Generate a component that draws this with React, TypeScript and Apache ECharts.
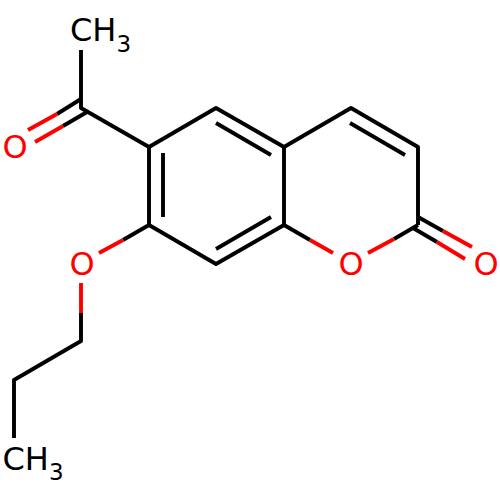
import React, { useEffect, useRef } from "react";
import * as echarts from "echarts";

type P = [number, number];

const blackBonds: P[][] = [
  [[81, 50], [81, 108], [149, 147], [216, 108], [284, 147], [351, 108], [418, 147], [418, 225]],
  [[149, 147], [149, 225], [216, 264], [284, 225], [284, 147]],
  [[163, 153], [163, 217]],
  [[216, 123], [271, 155]],
  [[216, 249], [271, 217]],
  [[350, 123], [405, 155]],
  [[81, 99], [57, 114]],
  [[87, 112], [63, 126]],
  [[149, 225], [123, 240]],
  [[284, 225], [310, 240]],
  [[418, 225], [394, 239]],
  [[418, 217], [443, 231]],
  [[413, 228], [437, 242]],
  [[81, 313], [81, 341], [14, 380], [14, 438]],
];

const redBonds: P[][] = [
  [[57, 114], [28, 130]],
  [[63, 126], [35, 142]],
  [[123, 240], [99, 253]],
  [[310, 240], [333, 253]],
  [[394, 239], [368, 253]],
  [[443, 231], [472, 247]],
  [[437, 242], [465, 259]],
  [[81, 283], [81, 313]],
];

const atomNames = ["CH", "3", "O", "O", "O", "O", "CH", "3"];
const atomX = [70, 116.5, 15, 82, 351, 486, 2.5, 49];
const atomY = [30, 43.5, 147, 264, 264, 264, 458.5, 472];
const atomSizes = [32, 23, 32, 32, 32, 32, 32, 23];
const atomColors = ["#000000", "#000000", "#ff0000", "#ff0000", "#ff0000", "#ff0000", "#000000", "#000000"];
const atomAligns = ["left", "left", "center", "center", "center", "center", "left", "left"];

const bondSeries = (bonds: P[][], color: string) =>
  bonds.map((bond) => ({
    type: "line",
    data: bond,
    symbol: "none",
    silent: true,
    clip: false,
    lineStyle: { color, width: 3.9, cap: "butt", join: "round", opacity: 1 },
  }));

export default function App() {
  const ref = useRef<HTMLDivElement>(null);

  useEffect(() => {
    const chart = echarts.init(ref.current!, undefined, { renderer: "svg" });
    chart.setOption({
      animation: false,
      backgroundColor: "#ffffff",
      grid: { left: 0, right: 0, top: 0, bottom: 0 },
      xAxis: { type: "value", min: 0, max: 500, show: false },
      yAxis: { type: "value", min: 0, max: 500, inverse: true, show: false },
      series: [
        ...bondSeries(blackBonds, "#000000"),
        ...bondSeries(redBonds, "#ff0000"),
        {
          type: "scatter",
          symbolSize: 0,
          silent: true,
          clip: false,
          itemStyle: { opacity: 1 },
          data: atomNames.map((name, i) => ({
            value: [atomX[i], atomY[i]],
            label: {
              show: true,
              position: "inside",
              formatter: name,
              fontFamily: "DejaVu Sans",
              fontSize: atomSizes[i],
              opacity: 1,
              color: atomColors[i],
              align: atomAligns[i],
              verticalAlign: "middle",
            },
          })),
        },
      ],
    });
    return () => chart.dispose();
  }, []);

  return (
    <div
      ref={ref}
      style={{ position: "absolute", left: 0, top: 0, width: 500, height: 500 }}
    />
  );
}
